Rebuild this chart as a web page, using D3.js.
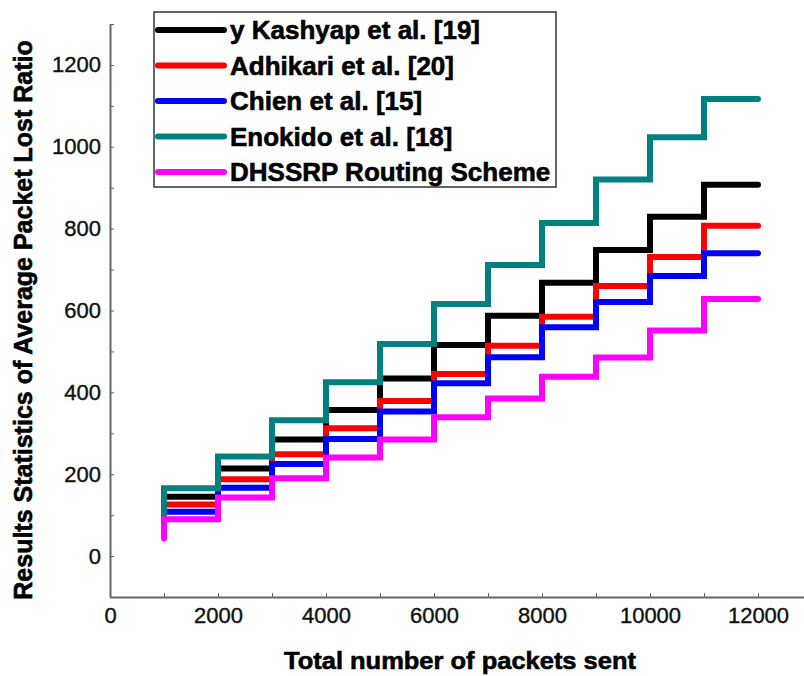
<!DOCTYPE html>
<html lang="en">
<head>
    <meta charset="UTF-8">
    <script src="https://d3js.org/d3.v7.min.js"></script>
    <title>Packet lost ratio</title>
    <style>
        body {
            margin: 0;
            padding: 0;
            background-color: #fff;
        }
        svg {
            display: block;
            font-family: "Liberation Sans", Arial, sans-serif;
        }
        .axis path, .axis line {
            stroke: #666;
        }
        .axis path {
            stroke-width: 2;
        }
        .axis text {
            font-size: 22px;
            fill: #111;
            stroke: #111;
            stroke-width: 0.4;
        }
        .heavy {
            font-weight: bold;
            stroke: #000;
            stroke-width: 0.6;
        }
        .stair {
            fill: none;
            stroke-width: 6;
            stroke-linecap: round;
            stroke-linejoin: miter;
        }
    </style>
</head>
<body>
    <div id="chart"></div>

    <script>
        // packets sent: each level holds from one edge to the next
        const edges = [1000, 2000, 3000, 4000, 5000, 6000, 7000, 8000, 9000, 10000, 11000, 12000]
        const xTicks = [0, 2000, 4000, 6000, 8000, 10000, 12000]
        const yTicks = [0, 200, 400, 600, 800, 1000, 1200]

        const names = ["y Kashyap et al. [19]", "Adhikari et al. [20]", "Chien et al. [15]", "Enokido et al. [18]", "DHSSRP Routing Scheme"]
        const colors = ["#000000", "#ff0000", "#0000ff", "#008080", "#ff00ff"]

        // value where each curve starts at x = 1000
        const starts = [100, 95, 90, 100, 43]
        const kashyap  = [145, 214, 285, 357, 434, 516, 587, 668, 748, 829, 907]
        const adhikari = [126, 188, 249, 312, 379, 445, 514, 585, 660, 731, 807]
        const chien    = [108, 167, 225, 286, 353, 422, 486, 559, 621, 684, 740]
        const enokido  = [166, 243, 332, 425, 518, 616, 711, 814, 920, 1023, 1117]
        const dhssrp   = [90, 143, 190, 241, 285, 339, 385, 438, 485, 551, 628]

        const levels = [kashyap, adhikari, chien, enokido, dhssrp]

        let box = { width: 804, height: 676, left: 110, top: 24, bottom: 597 }

        let svg = d3.select("#chart").append("svg")
            .attr("width", box.width)
            .attr("height", box.height)

        let xx = d3.scaleLinear().domain([0, 13000]).range([box.left, box.left + 702])
        let yy = d3.scaleLinear().domain([-100, 1300]).range([box.bottom, box.top])

        // axes, ticks inward
        let xAxis = d3.axisBottom(xx)
            .tickValues(d3.range(0, 13000, 1000))
            .tickFormat(d => xTicks.includes(d) ? d : "")
            .tickSizeInner(-4).tickSizeOuter(0).tickPadding(10)
        svg.append("g").attr("class", "axis")
            .attr("transform", "translate(0," + box.bottom + ")")
            .call(xAxis)

        let yAxis = d3.axisLeft(yy)
            .tickValues(d3.range(-100, 1301, 100))
            .tickFormat(d => yTicks.includes(d) ? d : "")
            .tickSizeInner(-4).tickSizeOuter(0).tickPadding(9)
        svg.append("g").attr("class", "axis")
            .attr("transform", "translate(" + box.left + ",0)")
            .call(yAxis)

        // stairs
        let stair = d3.line()
            .x(d => xx(d[0]))
            .y(d => yy(d[1]))
            .curve(d3.curveStepAfter)

        levels.forEach((lv, i) => {
            let pts = [[edges[0], starts[i]]]
            lv.forEach((v, j) => pts.push([edges[j], v]))
            pts.push([edges[edges.length - 1], lv[lv.length - 1]])
            svg.append("path").attr("class", "stair")
                .attr("stroke", colors[i])
                .attr("d", stair(pts))
        })

        // axis titles
        svg.append("text").attr("class", "heavy")
            .attr("x", 460).attr("y", 669)
            .attr("text-anchor", "middle")
            .attr("font-size", 24)
            .attr("textLength", 352).attr("lengthAdjust", "spacingAndGlyphs")
            .text("Total number of packets sent")

        svg.append("text").attr("class", "heavy")
            .attr("transform", "translate(32,320) rotate(-90)")
            .attr("text-anchor", "middle")
            .attr("font-size", 25)
            .text("Results Statistics of Average Packet Lost Ratio")

        // legend
        let lg = svg.append("g")
        lg.append("rect")
            .attr("x", 154).attr("y", 12).attr("width", 402).attr("height", 175)
            .attr("fill", "#fff").attr("stroke", "#333").attr("stroke-width", 1.5)

        names.forEach((n, i) => {
            let yy0 = 30 + i * 35.5
            lg.append("line")
                .attr("x1", 158).attr("x2", 224)
                .attr("y1", yy0).attr("y2", yy0)
                .attr("stroke", colors[i]).attr("stroke-width", 6)
                .attr("stroke-linecap", "round")
            lg.append("text").attr("class", "heavy")
                .attr("x", 230).attr("y", yy0)
                .attr("dy", "0.35em")
                .attr("font-size", 26)
                .text(n)
        })
    </script>
</body>
</html>
